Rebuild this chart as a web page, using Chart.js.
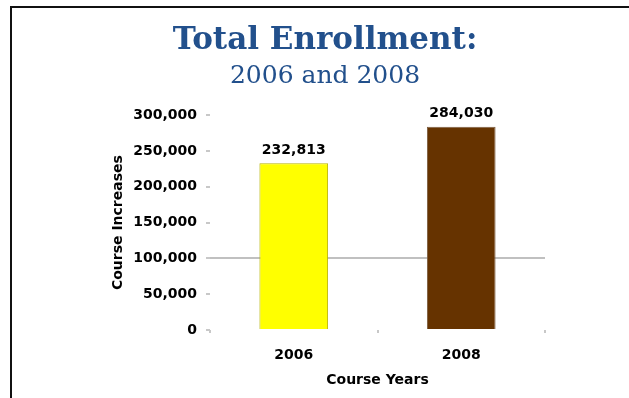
<!DOCTYPE html>
<html>
<head>
<meta charset="utf-8">
<script src="https://cdn.jsdelivr.net/npm/chart.js@4.4.1/dist/chart.umd.min.js"></script>
<style>
  html, body { margin: 0; padding: 0; background: #fff; }
  body { width: 629px; height: 398px; position: relative; overflow: hidden; }
  #frame { position: absolute; left: 10px; top: 6px; right: -10px; bottom: -10px;
           border-top: 2px solid #111; border-left: 2px solid #111;
           box-shadow: 0 1px 0 #999; }
  #wrap { position: absolute; left: 0; top: 0; width: 629px; height: 398px; }
</style>
</head>
<body>
<div id="frame"></div>
<div id="wrap"><canvas id="c" width="629" height="398"></canvas></div>
<script>
const categories = ["2006", "2008"];
const enrollment = [232813, 284030];
const barColors = ["#ffff00", "#663300"];
const barBorders = ["#b8b300", "#7d5d3f"];
const yTicks = [0, 50000, 100000, 150000, 200000, 250000, 300000];

const textColor = "#000000";
const sansBold = { family: "'DejaVu Sans', sans-serif", size: 14, weight: "bold" };

const valueLabels = {
  id: "valueLabels",
  afterDatasetsDraw(chart) {
    const ctx = chart.ctx;
    const meta = chart.getDatasetMeta(0);
    ctx.save();
    ctx.font = "bold 14px 'DejaVu Sans', sans-serif";
    ctx.fillStyle = textColor;
    ctx.textAlign = "center";
    ctx.textBaseline = "middle";
    meta.data.forEach((bar, i) => {
      ctx.fillText(enrollment[i].toLocaleString("en-US"), bar.x, bar.y - 13);
    });
    ctx.restore();
  }
};

new Chart(document.getElementById("c"), {
  type: "bar",
  data: {
    labels: categories,
    datasets: [{
      data: enrollment,
      backgroundColor: barColors,
      borderColor: barBorders,
      borderWidth: 1,
      barPercentage: 0.41,
      categoryPercentage: 1
    }]
  },
  plugins: [valueLabels],
  options: {
    responsive: false,
    animation: false,
    layout: { padding: { left: 105, right: 84, top: 0, bottom: 0 } },
    plugins: {
      legend: { display: false },
      tooltip: { enabled: false },
      title: {
        display: true,
        text: "Total Enrollment:",
        color: "#22508c",
        font: { family: "'DejaVu Serif', serif", size: 31, weight: "bold" },
        padding: { top: 22, bottom: 0 }
      },
      subtitle: {
        display: true,
        text: "2006 and 2008",
        color: "#22508c",
        font: { family: "'DejaVu Serif', serif", size: 25, weight: "normal" },
        padding: { top: 2, bottom: 24 }
      }
    },
    scales: {
      x: {
        border: { display: false },
        grid: { display: true, drawOnChartArea: false, offset: true, tickLength: 3, tickColor: "#c8c8c8", lineWidth: 2 },
        ticks: { color: textColor, font: sansBold, padding: 14 },
        title: { display: true, text: "Course Years", color: textColor, font: sansBold, padding: { top: 4, bottom: 9 } },
        afterFit(scale) { scale.height = 68; }
      },
      y: {
        min: 0,
        max: 300000,
        border: { display: false },
        grid: {
          color: (c) => (c.tick && c.tick.value === 100000 ? "#c0c0c0" : "rgba(0,0,0,0)"),
          tickColor: "#c8c8c8",
          lineWidth: 2,
          tickLength: 4
        },
        afterBuildTicks(scale) { scale.ticks = yTicks.map(v => ({ value: v })); },
        ticks: {
          color: textColor,
          font: sansBold,
          padding: 9,
          callback: (v) => Number(v).toLocaleString("en-US")
        },
        title: { display: true, text: "Course Increases", color: textColor, font: sansBold, padding: { top: 5, bottom: 0 } },
        afterFit(scale) { scale.width = 105; }
      }
    }
  }
});
</script>
</body>
</html>
